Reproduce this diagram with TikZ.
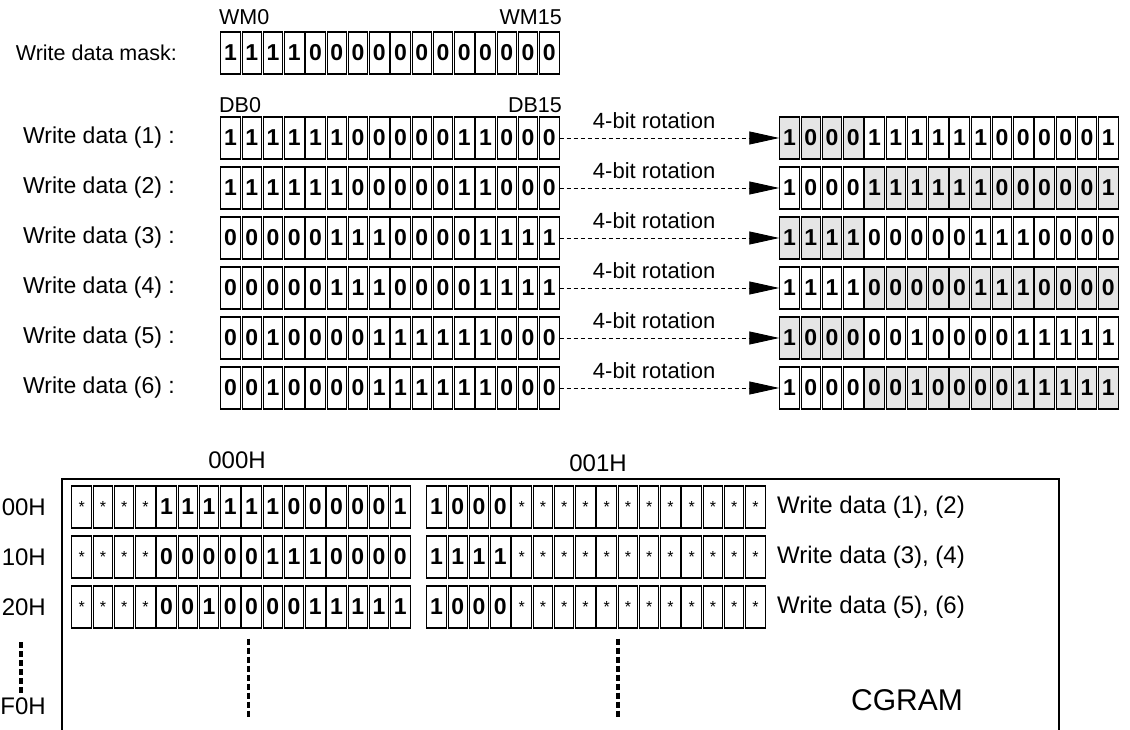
\documentclass[tikz,border=0pt]{standalone}
\usepackage{fontspec}
\setmainfont{Liberation Sans}
\usepackage{xcolor}
\usetikzlibrary{arrows.meta}

\definecolor{bitshade}{gray}{0.9}
\tikzset{
  bitcell/.style={draw, line width=1.1pt, minimum width=19.6pt, minimum height=42pt, inner sep=0pt,
    font=\fontsize{23}{23}\selectfont\bfseries},
  lbl/.style={font=\fontsize{21.5}{21.5}\selectfont, inner sep=0pt},
  biglbl/.style={font=\fontsize{24}{24}\selectfont, inner sep=0pt},
  rotarrow/.style={dash pattern=on 4pt off 3pt, line width=0.9pt, -{Triangle[length=30pt,width=13pt]}},
  dotline/.style={line width=3.5pt, dash pattern=on 6pt off 3pt},
}
\newcommand{\st}{{\fontsize{16}{16}\selectfont\mdseries *}}
% #1 name, #2 left x, #3 centre y, #4 fill of bits 0-3, #5 fill of bits 4-15, #6 bits
\newcommand{\bitrow}[6]{%
  \foreach \b [count=\i from 0] in {#6} {%
    \ifnum\i<4 \def\cellfill{#4}\else\def\cellfill{#5}\fi
    \node[bitcell, fill=\cellfill] (#1-\i) at ({#2+10.625+21.25*\i},#3) {\b};
  }}

\begin{document}
\begin{tikzpicture}[x=1pt,y=-1pt]
\clip (0,0) rectangle (1130,730);

% write data mask
\node[lbl, anchor=east] (masklbl) at (177,53) {Write data mask:};
\node[lbl, anchor=west] (wm0) at (219,17) {WM0};
\node[lbl, anchor=east] (wm15) at (562,17) {WM15};
\bitrow{M}{220}{53}{white}{white}{1,1,1,1,0,0,0,0,0,0,0,0,0,0,0,0}

% write data, before and after rotation
\node[lbl, anchor=west] (db0) at (219,105) {DB0};
\node[lbl, anchor=east] (db15) at (562,105) {DB15};
\node[biglbl, font=\fontsize{23}{23}\selectfont, anchor=east] (w1) at (175,138) {Write data (1) :};
\node[biglbl, font=\fontsize{23}{23}\selectfont, anchor=east] (w2) at (175,188) {Write data (2) :};
\node[biglbl, font=\fontsize{23}{23}\selectfont, anchor=east] (w3) at (175,238) {Write data (3) :};
\node[biglbl, font=\fontsize{23}{23}\selectfont, anchor=east] (w4) at (175,288) {Write data (4) :};
\node[biglbl, font=\fontsize{23}{23}\selectfont, anchor=east] (w5) at (175,338) {Write data (5) :};
\node[biglbl, font=\fontsize{23}{23}\selectfont, anchor=east] (w6) at (175,388) {Write data (6) :};

\bitrow{L1}{220}{138}{white}{white}{1,1,1,1,1,1,0,0,0,0,0,1,1,0,0,0}
\bitrow{L2}{220}{188}{white}{white}{1,1,1,1,1,1,0,0,0,0,0,1,1,0,0,0}
\bitrow{L3}{220}{238}{white}{white}{0,0,0,0,0,1,1,1,0,0,0,0,1,1,1,1}
\bitrow{L4}{220}{288}{white}{white}{0,0,0,0,0,1,1,1,0,0,0,0,1,1,1,1}
\bitrow{L5}{220}{338}{white}{white}{0,0,1,0,0,0,0,1,1,1,1,1,1,0,0,0}
\bitrow{L6}{220}{388}{white}{white}{0,0,1,0,0,0,0,1,1,1,1,1,1,0,0,0}

\bitrow{R1}{779}{138}{bitshade}{white}{1,0,0,0,1,1,1,1,1,1,0,0,0,0,0,1}
\bitrow{R2}{779}{188}{white}{bitshade}{1,0,0,0,1,1,1,1,1,1,0,0,0,0,0,1}
\bitrow{R3}{779}{238}{bitshade}{white}{1,1,1,1,0,0,0,0,0,1,1,1,0,0,0,0}
\bitrow{R4}{779}{288}{white}{bitshade}{1,1,1,1,0,0,0,0,0,1,1,1,0,0,0,0}
\bitrow{R5}{779}{338}{bitshade}{white}{1,0,0,0,0,0,1,0,0,0,0,1,1,1,1,1}
\bitrow{R6}{779}{388}{white}{bitshade}{1,0,0,0,0,0,1,0,0,0,0,1,1,1,1,1}

\foreach \r in {1,...,6}
  \draw[rotarrow] (L\r-15.east) -- node[lbl, font=\fontsize{22}{22}\selectfont, above=9pt, pos=0.43] {4-bit rotation} (R\r-0.west);

% CGRAM
\draw[line width=2pt] (62,760) -- (62,479) -- (1059,479) -- (1059,760);
\node[biglbl] (col0) at (237,460) {000H};
\node[biglbl] (col1) at (598,463) {001H};
\node[biglbl, anchor=east] (a00) at (46,507) {00H};
\node[biglbl, anchor=east] (a10) at (46,557) {10H};
\node[biglbl, anchor=east] (a20) at (46,607) {20H};
\node[biglbl, anchor=east] (af0) at (46,706) {F0H};
\node[font=\fontsize{30}{30}\selectfont, inner sep=0pt] (cgram) at (907,700) {CGRAM};

\bitrow{A1}{71}{507}{white}{white}{\st,\st,\st,\st,1,1,1,1,1,1,0,0,0,0,0,1}
\bitrow{A2}{71}{557}{white}{white}{\st,\st,\st,\st,0,0,0,0,0,1,1,1,0,0,0,0}
\bitrow{A3}{71}{607}{white}{white}{\st,\st,\st,\st,0,0,1,0,0,0,0,1,1,1,1,1}
\bitrow{B1}{426}{507}{white}{white}{1,0,0,0,\st,\st,\st,\st,\st,\st,\st,\st,\st,\st,\st,\st}
\bitrow{B2}{426}{557}{white}{white}{1,1,1,1,\st,\st,\st,\st,\st,\st,\st,\st,\st,\st,\st,\st}
\bitrow{B3}{426}{607}{white}{white}{1,0,0,0,\st,\st,\st,\st,\st,\st,\st,\st,\st,\st,\st,\st}

\node[biglbl, anchor=west] (wd12) at (777,507) {Write data (1), (2)};
\node[biglbl, anchor=west] (wd34) at (777,557) {Write data (3), (4)};
\node[biglbl, anchor=west] (wd56) at (777,607) {Write data (5), (6)};

\draw[dotline] (21,642) -- (21,694);
\draw[dotline] ([xshift=7pt,yshift=-10pt]A3-8.south west) -- ++(0,80);
\draw[dotline] ([xshift=1pt,yshift=-10pt]B3-8.south east) -- ++(0,80);
\end{tikzpicture}
\end{document}
